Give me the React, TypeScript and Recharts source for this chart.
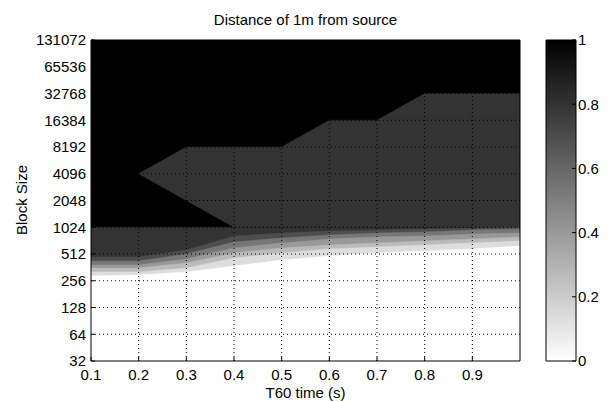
import React from 'react';
import { ComposedChart, BarChart, Bar, Area, XAxis, YAxis, ReferenceLine, CartesianGrid } from 'recharts';

// T60 reverberation times (s) along the x axis
const t60 = [0.1, 0.2, 0.3, 0.4, 0.5, 0.6, 0.7, 0.8, 0.9, 1.0];
const xTicks = [0.1, 0.2, 0.3, 0.4, 0.5, 0.6, 0.7, 0.8, 0.9];
const yTicks = [32, 64, 128, 256, 512, 1024, 2048, 4096, 8192, 16384, 32768, 65536, 131072];
const cbTicks = [0, 0.2, 0.4, 0.6, 0.8, 1];

// contour boundaries, read as block sizes
const wedgeTop = [null, 4096, 8192, 8192, 8192, 16384, 16384, 32768, 32768, 32768];
const wedgeLow = [null, 4096, 2048, 1024, 1024, 1024, 1024, 1024, 1024, 1024];
const darkTop = [1024, 1024, 1024, 1024, 1024, 1024, 1024, 1024, 1024, 1024];
const level1 = [474, 474, 568, 817, 882, 929, 953, 980, 1000, 1024];
const level2 = [427, 427, 512, 699, 775, 838, 882, 905, 953, 979];
const level3 = [385, 385, 450, 598, 681, 755, 796, 817, 860, 882];
const level4 = [356, 356, 406, 525, 598, 646, 681, 717, 755, 796];
const level5 = [321, 321, 356, 462, 525, 583, 614, 646, 681, 717];
const whiteTop = [290, 297, 321, 375, 438, 486, 525, 553, 583, 630];

const rows = t60.map((t, i) => ({
  t,
  wedge: wedgeLow[i] == null ? null : [wedgeLow[i], wedgeTop[i]],
  dark: darkTop[i],
  l1: level1[i],
  l2: level2[i],
  l3: level3[i],
  l4: level4[i],
  l5: level5[i],
  w: whiteTop[i],
}));

const bands = [
  { key: 'dark', color: '#333333' },
  { key: 'l1', color: '#4d4d4d' },
  { key: 'l2', color: '#777777' },
  { key: 'l3', color: '#999999' },
  { key: 'l4', color: '#bbbbbb' },
  { key: 'l5', color: '#dddddd' },
  { key: 'w', color: '#ffffff' },
];

// colour bar spans the full 0..1 range
const cbRows = [{ name: 'cb', hi: 1 }];

const font = '"Liberation Sans", Arial, sans-serif';
const tickStyle = { fill: '#000', fontSize: 15, fontFamily: font };

export default function App() {
  return (
    <div style={{ position: 'absolute', left: 0, top: 0, width: 608, height: 402, background: '#fff' }}>
      <div style={{ position: 'absolute', left: 91, width: 429, top: 11, textAlign: 'center', fontFamily: font, fontSize: 15 }}>
        Distance of 1m from source
      </div>
      <div
        style={{
          position: 'absolute', left: 21, top: 200, fontFamily: font, fontSize: 15, whiteSpace: 'nowrap',
          transform: 'translate(-50%, -50%) rotate(-90deg)',
        }}
      >
        Block Size
      </div>
      <div style={{ position: 'absolute', left: 91, width: 429, top: 384, textAlign: 'center', fontFamily: font, fontSize: 15 }}>
        T60 time (s)
      </div>

      <div style={{ position: 'absolute', left: 0, top: 0 }}>
        <ComposedChart width={608} height={402} data={rows} margin={{ top: 40, right: 88, left: 0, bottom: 0 }}>
          <CartesianGrid horizontal={false} vertical={false} fill="#000" />
          <XAxis
            dataKey="t" type="number" domain={[0.1, 1]} ticks={xTicks} interval={0}
            height={41} tick={tickStyle} tickLine={{ stroke: '#000' }} tickSize={-4} tickMargin={12}
            axisLine={{ stroke: '#000' }} allowDataOverflow
          />
          <YAxis
            type="number" scale="log" domain={[32, 131072]} ticks={yTicks} interval={0}
            width={91} tick={tickStyle} tickLine={{ stroke: '#000' }} tickSize={-4} tickMargin={9}
            axisLine={{ stroke: '#000' }} allowDataOverflow
          />
          <Area dataKey="wedge" type="linear" fill="#333333" fillOpacity={1} stroke="#333333" strokeWidth={0.5} isAnimationActive={false} dot={false} activeDot={false} />
          {bands.map((b) => (
            <Area key={b.key} dataKey={b.key} type="linear" fill={b.color} fillOpacity={1} stroke={b.color} strokeWidth={0.5} isAnimationActive={false} dot={false} activeDot={false} />
          ))}
          {xTicks.slice(1).map((v) => (
            <ReferenceLine key={'gx' + v} x={v} stroke="#000" strokeDasharray="1 3" />
          ))}
          {yTicks.slice(1, -1).map((v) => (
            <ReferenceLine key={'gy' + v} y={v} stroke="#000" strokeDasharray="1 3" />
          ))}
          <ReferenceLine x={1} stroke="#000" />
          <ReferenceLine y={131072} stroke="#000" />
        </ComposedChart>
      </div>

      <div style={{ position: 'absolute', left: 530, top: 0 }}>
        <BarChart width={78} height={402} data={cbRows} margin={{ top: 40, right: 0, left: 16, bottom: 41 }} barCategoryGap={0}>
          <defs>
            <linearGradient id="cbGrad" x1="0" y1="0" x2="0" y2="1">
              <stop offset="0%" stopColor="#000" />
              <stop offset="100%" stopColor="#fff" />
            </linearGradient>
          </defs>
          <XAxis dataKey="name" type="category" hide />
          <YAxis
            orientation="right" type="number" domain={[0, 1]} ticks={cbTicks} interval={0}
            width={32} tick={tickStyle} tickLine={{ stroke: '#000' }} tickSize={-4} tickMargin={6}
            axisLine={false}
            tickFormatter={(v: number) => String(v)}
          />
          <YAxis
            yAxisId="left" orientation="left" type="number" domain={[0, 1]} ticks={cbTicks} interval={0}
            width={0} tick={false} tickLine={{ stroke: '#000' }} tickSize={-4}
            axisLine={false}
          />
          <Bar dataKey="hi" fill="url(#cbGrad)" stroke="#000" strokeWidth={1} isAnimationActive={false} />
        </BarChart>
      </div>
    </div>
  );
}
